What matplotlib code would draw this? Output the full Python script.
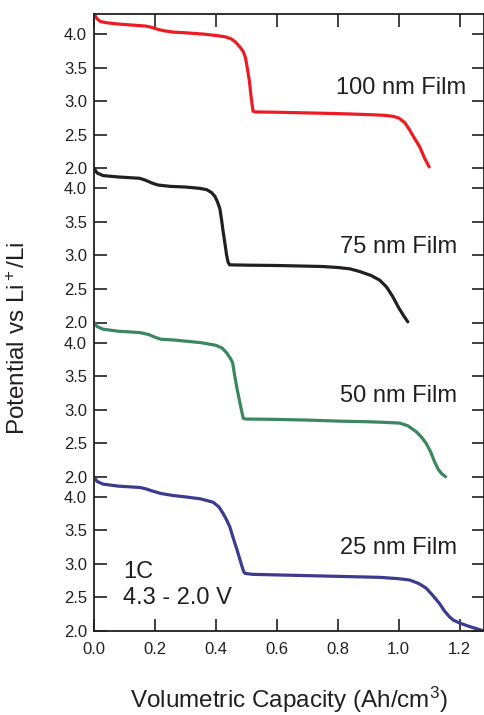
import matplotlib
matplotlib.use("Agg")
import matplotlib.pyplot as plt
import numpy as np

plt.rcParams['font.family'] = ['Liberation Sans', 'DejaVu Sans']
plt.rcParams['mathtext.fontset'] = 'custom'
plt.rcParams['mathtext.rm'] = 'Liberation Sans'
plt.rcParams['mathtext.it'] = 'Liberation Sans'
plt.rcParams['mathtext.bf'] = 'Liberation Sans'

# ---- data (capacity in Ah/cm^3, potential in V) ----
films = ["25 nm Film", "50 nm Film", "75 nm Film", "100 nm Film"]

x_100 = [0, 0.01, 0.02, 0.04, 0.08, 0.14, 0.17, 0.19, 0.21, 0.23, 0.26, 0.30, 0.36,
         0.40, 0.43, 0.45, 0.465, 0.48, 0.49, 0.497, 0.503, 0.51, 0.516, 0.522, 0.53,
         0.60, 0.70, 0.80, 0.90, 0.95, 0.98, 1.00, 1.02, 1.036, 1.05, 1.069, 1.085, 1.10]
v_100 = [4.30, 4.23, 4.19, 4.17, 4.15, 4.13, 4.12, 4.10, 4.07, 4.05, 4.03, 4.02, 4.00,
         3.98, 3.96, 3.93, 3.88, 3.80, 3.74, 3.65, 3.50, 3.30, 3.05, 2.85, 2.84,
         2.835, 2.825, 2.815, 2.80, 2.79, 2.775, 2.75, 2.68, 2.57, 2.46, 2.32, 2.15, 2.02]

x_75 = [0, 0.01, 0.03, 0.08, 0.15, 0.17, 0.19, 0.21, 0.25, 0.30, 0.348, 0.37, 0.385,
        0.397, 0.405, 0.413, 0.419, 0.424, 0.43, 0.435, 0.440, 0.445, 0.50, 0.60, 0.70,
        0.75, 0.80, 0.84, 0.872, 0.91, 0.938, 0.96, 0.98, 1.00, 1.015, 1.03]
v_75 = [4.30, 4.23, 4.19, 4.17, 4.15, 4.12, 4.08, 4.05, 4.03, 4.02, 4.00, 3.98, 3.94,
        3.88, 3.80, 3.70, 3.52, 3.35, 3.17, 3.01, 2.90, 2.86, 2.855, 2.85, 2.84,
        2.835, 2.82, 2.80, 2.76, 2.70, 2.63, 2.53, 2.39, 2.22, 2.11, 2.01]

x_50 = [0, 0.01, 0.03, 0.08, 0.15, 0.18, 0.20, 0.22, 0.26, 0.35, 0.40, 0.42, 0.435,
        0.447, 0.455, 0.462, 0.47, 0.479, 0.486, 0.49, 0.50, 0.577, 0.70, 0.80, 0.90,
        0.96, 1.003, 1.03, 1.058, 1.075, 1.09, 1.105, 1.118, 1.13, 1.14, 1.154]
v_50 = [4.30, 4.24, 4.20, 4.17, 4.15, 4.12, 4.08, 4.05, 4.04, 4.00, 3.96, 3.92, 3.85,
        3.77, 3.70, 3.50, 3.30, 3.10, 2.95, 2.87, 2.86, 2.857, 2.845, 2.83, 2.82,
        2.81, 2.80, 2.76, 2.67, 2.59, 2.50, 2.37, 2.22, 2.11, 2.05, 2.00]

x_25 = [0, 0.01, 0.03, 0.08, 0.15, 0.17, 0.19, 0.22, 0.26, 0.30, 0.35, 0.391, 0.41,
        0.424, 0.436, 0.446, 0.456, 0.468, 0.48, 0.49, 0.495, 0.52, 0.61, 0.80, 0.938,
        1.00, 1.036, 1.065, 1.09, 1.11, 1.134, 1.15, 1.167, 1.18, 1.20, 1.23, 1.266, 1.28]
v_25 = [4.30, 4.23, 4.19, 4.16, 4.14, 4.12, 4.09, 4.05, 4.02, 4.00, 3.97, 3.92, 3.85,
        3.75, 3.65, 3.55, 3.40, 3.23, 3.05, 2.90, 2.86, 2.845, 2.835, 2.815, 2.80,
        2.78, 2.76, 2.71, 2.64, 2.54, 2.41, 2.30, 2.21, 2.16, 2.12, 2.07, 2.02, 2.00]

colors = ['#3c3b8e', '#3b8761', '#231f20', '#ed1c24']
xs = [x_25, x_50, x_75, x_100]
vs = [v_25, v_50, v_75, v_100]

y_ticks = [2.0, 2.5, 3.0, 3.5, 4.0]
x_ticks = [0.0, 0.2, 0.4, 0.6, 0.8, 1.0, 1.2]
vmin, vmax = 2.0, 4.3
span = vmax - vmin

label_v = [3.24, 3.20, 3.13, 3.20]
label_x = [1.193, 1.193, 1.193, 1.22]

txtc = '#231f20'
fig = plt.figure(figsize=(4.85, 7.15), dpi=100)
ax = fig.add_axes([94/485, 1-631/715, 390/485, 617/715])

for k in range(4):
    off = k * span
    ax.plot(xs[k], np.array(vs[k]) + off, color=colors[k], lw=2.3,
            solid_joinstyle='round', solid_capstyle='round')
    ax.text(label_x[k], label_v[k] + off, films[k], ha='right', va='center',
            fontsize=17, color=txtc)

ax.text(0.095, 2.88, "1C", ha='left', va='center', fontsize=17, color=txtc)
ax.text(0.095, 2.49, "4.3 - 2.0 V", ha='left', va='center', fontsize=17, color=txtc)

yt, yl = [], []
for k in range(4):
    for t in y_ticks:
        yt.append(t + k * span)
        yl.append(f"{t:.1f}")
ax.set_yticks(yt)
ax.set_yticklabels(yl)
ax.set_xticks(x_ticks)
ax.set_xticklabels([f"{t:.1f}" for t in x_ticks])

ax.set_xlim(0, 1.28)
ax.set_ylim(vmin, vmin + 4 * span)

ax.tick_params(direction='in', length=9, width=1.2, top=True, right=True,
               labelsize=12, colors=txtc)
ax.tick_params(axis='x', pad=8)
ax.tick_params(axis='y', pad=5)
for s in ax.spines.values():
    s.set_linewidth(1.3)
    s.set_color(txtc)

ax.set_xlabel("Volumetric Capacity (Ah/cm$^3$)", fontsize=17.5, color=txtc, labelpad=20)
ax.set_ylabel("Potential vs Li$^+$/Li", fontsize=17.5, color=txtc)
ax.yaxis.set_label_coords(-0.165, 0.475)

fig.savefig("out.png", dpi=100)
